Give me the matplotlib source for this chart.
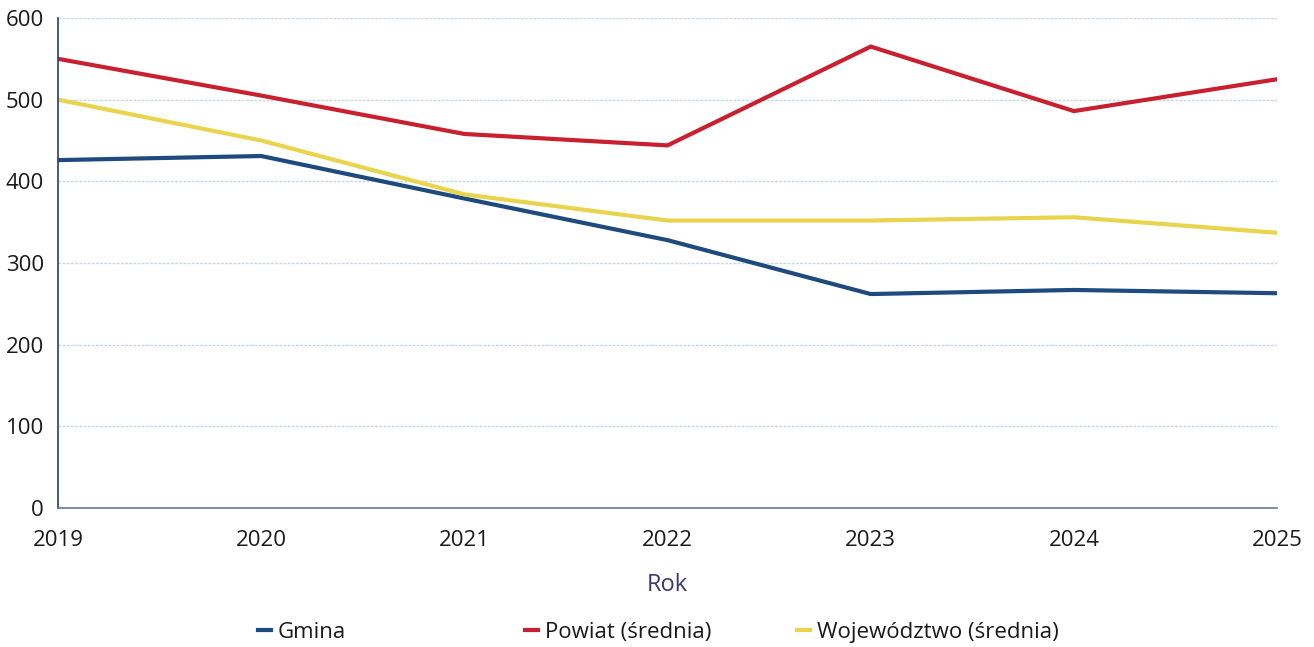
import matplotlib
matplotlib.use("Agg")
import matplotlib.pyplot as plt

years = [2019, 2020, 2021, 2022, 2023, 2024, 2025]
gmina = [426, 431, 379, 328, 262, 267, 263]
powiat = [550, 505, 458, 444, 565, 486, 525]
wojewodztwo = [500, 450, 384, 352, 352, 356, 337]

plt.rcParams['font.family'] = ['Open Sans', 'DejaVu Sans']

fig = plt.figure(figsize=(13.14, 6.47), dpi=100)
ax = fig.add_axes([0.0441, 0.2148, 0.9278, 0.7574])

l1, = ax.plot(years, gmina, color="#1f4a7e", lw=3, label="Gmina", solid_joinstyle="miter")
l2, = ax.plot(years, powiat, color="#c8202f", lw=3, label="Powiat (średnia)", solid_joinstyle="miter")
l3, = ax.plot(years, wojewodztwo, color="#e8d44d", lw=3, label="Województwo (średnia)", solid_joinstyle="miter")

ax.set_xlim(2019, 2025)
ax.set_ylim(0, 600)
ax.set_yticks(range(0, 601, 100))
ax.set_xticks(years)
ax.grid(axis="y", color="#c6d7e8", lw=1, ls=(0, (2, 1)))
ax.set_axisbelow(True)

for s in ["top", "right"]:
    ax.spines[s].set_visible(False)
ax.spines["left"].set_color("#1f3f7a")
ax.spines["left"].set_linewidth(1.2)
ax.spines["bottom"].set_color("#6a7a95")
ax.spines["bottom"].set_linewidth(1.2)
ax.tick_params(length=0, labelsize=16, colors="#1a1a1a")
ax.tick_params(axis="x", pad=16)
ax.tick_params(axis="y", pad=10)

ax.set_xlabel("Rok", fontsize=17, color="#3a3a6e", labelpad=16)

# one legend entry per slot, spaced like the reference
for line, xpos in zip([l1, l2, l3], [0.196, 0.3995, 0.6065]):
    fig.legend(handles=[line], loc="center left", bbox_to_anchor=(xpos, 0.022),
               frameon=False, fontsize=16, handlelength=0.6, handletextpad=0.3,
               borderpad=0, borderaxespad=0, labelcolor="#1a1a1a")

fig.savefig("out.png", dpi=100)
